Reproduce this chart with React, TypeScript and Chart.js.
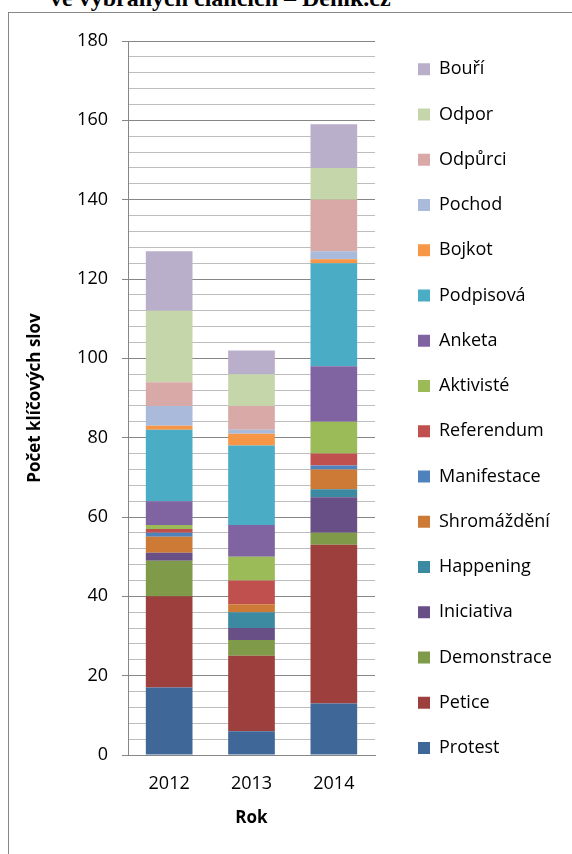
import React, { useEffect, useRef } from 'react';
import { Chart, registerables } from 'chart.js';

Chart.register(...registerables);

const years = ['2012', '2013', '2014'];

const seriesNames = [
  'Protest', 'Petice', 'Demonstrace', 'Iniciativa', 'Happening', 'Shromáždění',
  'Manifestace', 'Referendum', 'Aktivisté', 'Anketa', 'Podpisová', 'Bojkot',
  'Pochod', 'Odpůrci', 'Odpor', 'Bouří',
];

const protest = [17, 6, 13];
const petice = [23, 19, 40];
const demonstrace = [9, 4, 3];
const iniciativa = [2, 3, 9];
const happening = [0, 4, 2];
const shromazdeni = [4, 2, 5];
const manifestace = [1, 0, 1];
const referendum = [1, 6, 3];
const aktiviste = [1, 6, 8];
const anketa = [6, 8, 14];
const podpisova = [18, 20, 26];
const bojkot = [1, 3, 1];
const pochod = [5, 1, 2];
const odpurci = [6, 6, 13];
const odpor = [18, 8, 8];
const bouri = [15, 6, 11];

const seriesValues = [
  protest, petice, demonstrace, iniciativa, happening, shromazdeni,
  manifestace, referendum, aktiviste, anketa, podpisova, bojkot,
  pochod, odpurci, odpor, bouri,
];

const seriesColors = [
  '#3f6899', '#9d403d', '#7f9a48', '#684f86', '#3c8aa2', '#cc7a36',
  '#4f81bd', '#c0504d', '#9bbb59', '#8064a2', '#4bacc6', '#f79646',
  '#a9badb', '#d9a9a8', '#c6d6ab', '#b9afcb',
];

const yTickMax = 180;
const yTickStep = 4;
const yMajorStep = 20;

const CANVAS_W = 563;
const CANVAS_H = 841;
const LEG_LEFT = 381.75;
const LEG_TOP = 20;
const LEG_WIDTH = 190;

const legendShift = {
  id: 'legendShift',
  afterLayout(chart: any) {
    const lg = chart.legend;
    if (!lg) return;
    const dy = LEG_TOP - lg.top;
    lg.left = LEG_LEFT;
    lg.right = LEG_LEFT + LEG_WIDTH;
    lg.width = LEG_WIDTH;
    lg.top += dy;
    lg.bottom += dy;
  },
};

export default function App() {
  const ref = useRef<HTMLCanvasElement | null>(null);

  useEffect(() => {
    if (!ref.current) return;
    Chart.defaults.color = '#000';
    const chart = new Chart(ref.current, {
      type: 'bar',
      data: {
        labels: years,
        datasets: seriesNames.map((name, i) => ({
          label: name,
          data: seriesValues[i],
          backgroundColor: seriesColors[i],
          borderWidth: 0,
          barPercentage: 0.567,
          categoryPercentage: 1,
        })),
      },
      options: {
        animation: false,
        responsive: true,
        maintainAspectRatio: false,
        layout: { padding: { top: 28, right: 47, bottom: 0, left: 0 } },
        plugins: {
          tooltip: { enabled: false },
          legend: {
            position: 'right',
            align: 'start',
            maxWidth: 150,
            reverse: true,
            labels: {
              boxWidth: 12,
              boxHeight: 12,
              padding: 27.25,
              color: '#000',
              font: { family: 'Open Sans', size: 18 },
            },
          },
        },
        scales: {
          x: {
            stacked: true,
            grid: { display: false },
            border: { display: true, color: '#868686', width: 1 },
            ticks: {
              color: '#000',
              padding: 10,
              font: { family: 'Open Sans', size: 18 },
            },
            title: {
              display: true,
              text: 'Rok',
              color: '#000',
              font: { family: 'Open Sans', size: 17, weight: 'bold' },
              padding: { top: 0, bottom: 26 },
            },
            afterFit: (scale: any) => {
              scale.height = 99;
            },
          },
          y: {
            stacked: true,
            min: 0,
            max: yTickMax,
            border: { display: true, color: '#868686', width: 1 },
            grid: {
              drawTicks: true,
              tickLength: 6,
              color: (ctx: any) =>
                ctx.tick && ctx.tick.value % yMajorStep === 0 ? '#868686' : '#bdbdbd',
              tickColor: (ctx: any) =>
                ctx.tick && ctx.tick.value % yMajorStep === 0 ? '#868686' : 'rgba(0,0,0,0)',
            },
            ticks: {
              stepSize: yTickStep,
              autoSkip: false,
              padding: 14,
              color: '#000',
              font: { family: 'Open Sans', size: 18 },
              callback: (v: any) => (Number(v) % yMajorStep === 0 ? String(v) : ''),
            },
            title: {
              display: true,
              text: 'Počet klíčových slov',
              color: '#000',
              font: { family: 'Open Sans', size: 17, weight: 'bold' },
              padding: { top: 15.8, bottom: 0 },
            },
            afterFit: (scale: any) => {
              scale.width = 119;
            },
          },
        },
      },
      plugins: [legendShift],
    } as any);
    return () => chart.destroy();
  }, []);

  return (
    <div
      style={{
        position: 'fixed',
        left: 0,
        top: 0,
        width: 572,
        height: 854,
        overflow: 'hidden',
        background: '#fff',
      }}
    >
      <div
        style={{
          position: 'absolute',
          left: 50,
          top: -14,
          fontFamily: '"Liberation Serif", serif',
          fontWeight: 'bold',
          fontSize: 24,
          lineHeight: '24px',
          whiteSpace: 'nowrap',
          color: '#000',
        }}
      >
        ve vybraných článcích – Deník.cz
      </div>
      <div
        style={{
          position: 'absolute',
          left: 8,
          top: 12,
          width: 700,
          height: 1000,
          border: '1px solid #878787',
          boxSizing: 'border-box',
        }}
      />
      <div
        style={{
          position: 'absolute',
          left: 9,
          top: 13,
          width: CANVAS_W,
          height: CANVAS_H,
        }}
      >
        <canvas ref={ref} />
      </div>
    </div>
  );
}
